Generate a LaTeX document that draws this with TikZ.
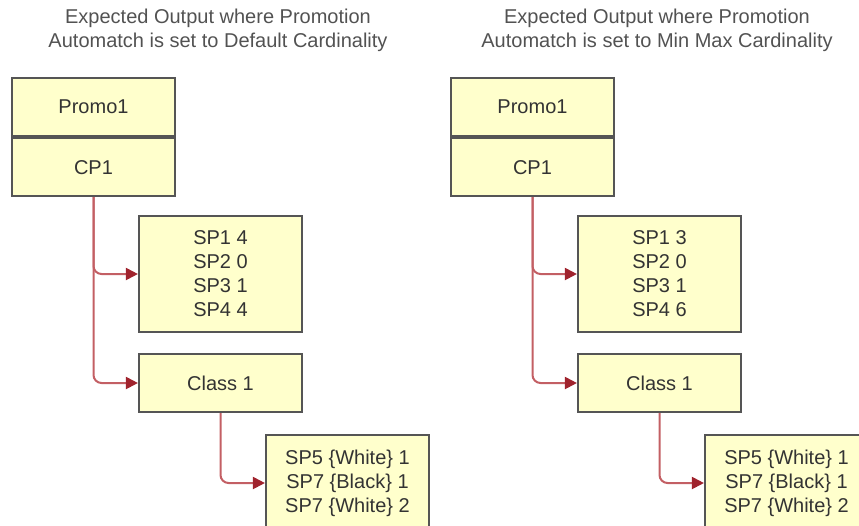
\documentclass[tikz,border=0pt]{standalone}
\usepackage{fontspec}
\setmainfont{Liberation Sans}
\usetikzlibrary{positioning,arrows.meta}

\definecolor{boxfill}{RGB}{255,255,204}
\definecolor{boxline}{RGB}{85,85,85}
\definecolor{linkline}{RGB}{195,95,100}
\definecolor{linktip}{RGB}{160,35,45}
\definecolor{txt}{RGB}{51,51,51}

\tikzset{
  box/.style={draw=boxline, line width=1.6pt, fill=boxfill, text=txt,
    minimum width=122.25pt, minimum height=43.5pt, inner sep=0pt,
    align=center, font=\fontsize{15}{18}\selectfont},
  link/.style={draw=linkline, line width=1.5pt, rounded corners=6pt,
    -{Triangle[length=9pt,width=9pt,color=linktip]}},
  heading/.style={text=txt!85, align=center, font=\fontsize{15}{18}\selectfont}
}

\begin{document}
\begin{tikzpicture}[x=0.75pt,y=-0.75pt]
    \clip (0,0) rectangle (859,525);

    \foreach \side/\dx/\card/\spone/\spfour in {L/0/Default/4/4, R/439/Min Max/3/6}{
        % Heading
        \node[heading] (title\side) at (218+\dx,30)
            {Expected Output where Promotion\\Automatch is set to \card{} Cardinality};

        % Promotion
        \node[box] (promo\side) at (93.5+\dx,107) {Promo1};
        \node[box, below=0pt of promo\side] (cp\side) {CP1};

        % Products
        \node[box, minimum height=87pt] (sp\side) at (220.5+\dx,274)
            {SP1 \spone\\SP2 0\\SP3 1\\SP4 \spfour};
        \node[box] (cls\side) at (220.5+\dx,383) {Class 1};
        \node[box, minimum height=72pt] (sub\side) at (347.5+\dx,483)
            {SP5 \{White\} 1\\SP7 \{Black\} 1\\SP7 \{White\} 2};

        % Links
        \draw[link] (cp\side.south) |- (sp\side.west);
        \draw[link] (cp\side.south) |- (cls\side.west);
        \draw[link] (cls\side.south) |- (sub\side.west);
    }
\end{tikzpicture}
\end{document}
